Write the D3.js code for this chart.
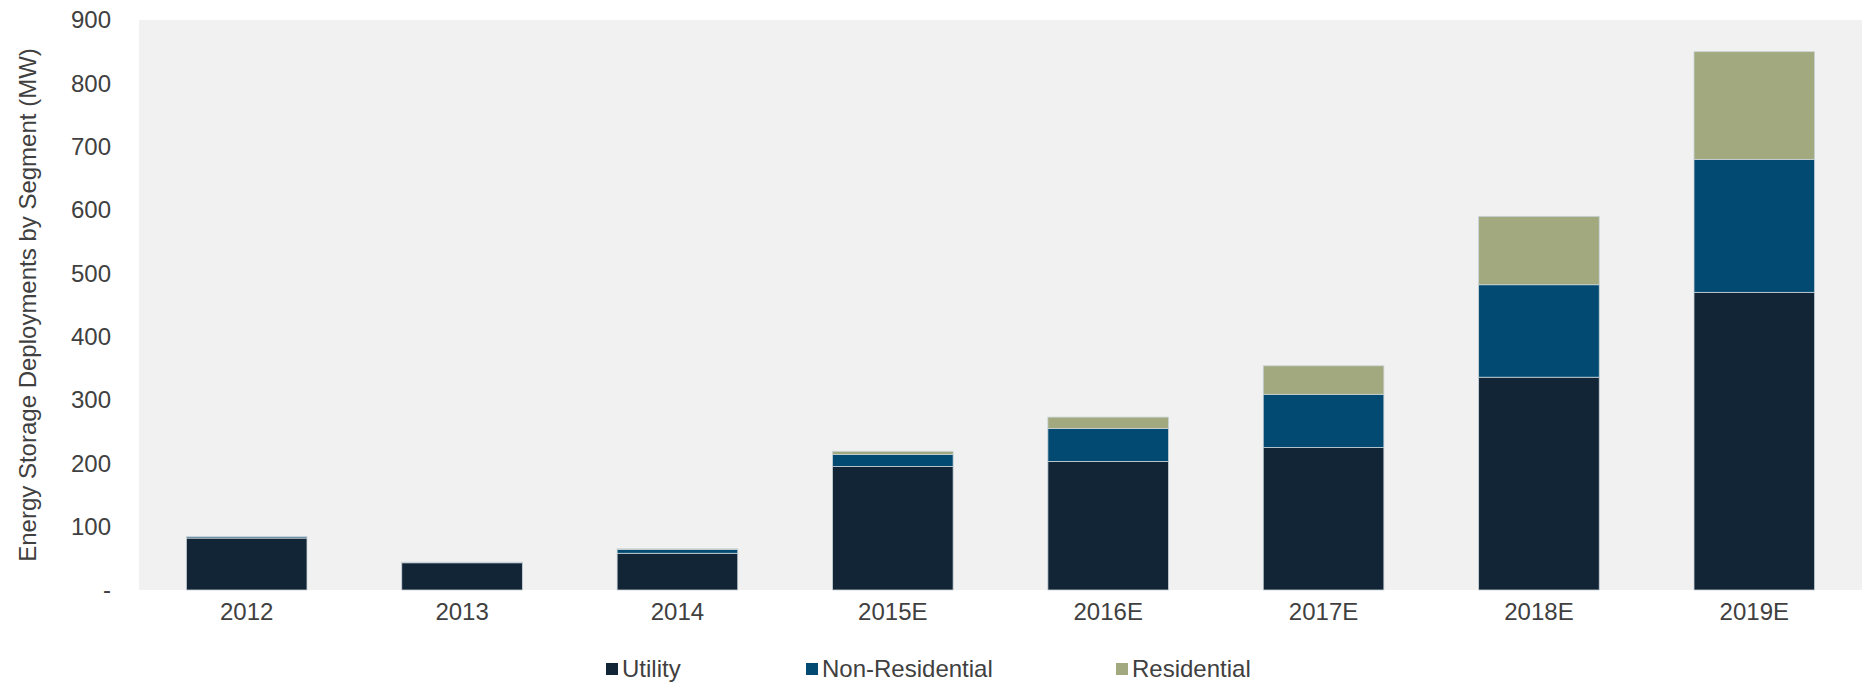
<!DOCTYPE html>
<html>
<head>
<meta charset="utf-8">
<script src="https://cdn.jsdelivr.net/npm/d3@7"></script>
<style>
  body { margin: 0; background: #fff; }
  text { font-family: "Liberation Sans", Arial, sans-serif; fill: #404040; }
</style>
</head>
<body>
<div id="chart"></div>
<script>
// Data (MW)
const years = ["2012", "2013", "2014", "2015E", "2016E", "2017E", "2018E", "2019E"];
const segments = ["Utility", "Non-Residential", "Residential"];
const utility = [82, 43, 58, 195, 203, 225, 336, 470];
const nonResidential = [2, 1, 6, 19, 52, 84, 146, 210];
const residential = [0, 0, 1, 5, 18, 45, 108, 170];
const yTicks = [0, 100, 200, 300, 400, 500, 600, 700, 800, 900];
const colors = ["#112537", "#024a72", "#a3a97e"];

const W = 1862, H = 683;
const margin = {top: 20, right: 0, bottom: 93, left: 139};
const width = W - margin.left - margin.right;
const height = H - margin.top - margin.bottom;
const fontSize = "24px";

const svg = d3.select("#chart").append("svg")
  .attr("width", W)
  .attr("height", H);

const g = svg.append("g")
  .attr("transform", `translate(${margin.left},${margin.top})`);

// plot background
g.append("rect")
  .attr("width", width)
  .attr("height", height)
  .attr("fill", "#f1f1f1");

const rows = years.map((y, i) => ({
  year: y,
  "Utility": utility[i],
  "Non-Residential": nonResidential[i],
  "Residential": residential[i]
}));

const stack = d3.stack().keys(segments)(rows);

const x = d3.scaleBand()
  .domain(years)
  .range([0, width])
  .paddingInner(0.44)
  .paddingOuter(0.22);

const y = d3.scaleLinear()
  .domain([0, 900])
  .range([height, 0]);

const color = d3.scaleOrdinal().domain(segments).range(colors);

g.selectAll(".layer")
  .data(stack)
  .enter().append("g")
  .attr("class", "layer")
  .attr("fill", d => color(d.key))
  .selectAll("rect")
  .data(d => d.filter(s => s[1] - s[0] > 0))
  .enter().append("rect")
  .attr("x", d => x(d.data.year))
  .attr("y", d => y(d[1]))
  .attr("width", x.bandwidth())
  .attr("height", d => y(d[0]) - y(d[1]))
  .attr("stroke", "#c9d3d8")
  .attr("stroke-width", 0.8);

// y axis (labels only)
const yAxis = g.append("g")
  .call(d3.axisLeft(y).tickValues(yTicks).tickSize(0).tickPadding(28)
    .tickFormat(d => d === 0 ? "-" : d));
yAxis.select(".domain").remove();
yAxis.selectAll("text")
  .style("font-size", fontSize)
  .style("font-family", "Liberation Sans, Arial, sans-serif")
  .attr("fill", "#404040");

// x axis
const xAxis = g.append("g")
  .attr("transform", `translate(0,${height})`)
  .call(d3.axisBottom(x).tickSize(0).tickPadding(13));
xAxis.select(".domain").remove();
xAxis.selectAll("text")
  .style("font-size", fontSize)
  .style("font-family", "Liberation Sans, Arial, sans-serif")
  .attr("fill", "#404040");

// y axis title
svg.append("text")
  .attr("transform", `translate(36,${margin.top + height / 2}) rotate(-90)`)
  .attr("text-anchor", "middle")
  .style("font-size", fontSize)
  .text("Energy Storage Deployments by Segment (MW)");

// legend
const legendX = [606, 806, 1116];
const legend = svg.append("g")
  .attr("transform", `translate(0,669)`);
const items = legend.selectAll(".item")
  .data(segments)
  .enter().append("g")
  .attr("class", "item")
  .attr("transform", (d, i) => `translate(${legendX[i]},0)`);
items.append("rect")
  .attr("x", 0)
  .attr("y", -6)
  .attr("width", 12)
  .attr("height", 12)
  .attr("fill", d => color(d));
items.append("text")
  .attr("x", 16)
  .attr("dy", "0.35em")
  .style("font-size", fontSize)
  .text(d => d);
</script>
</body>
</html>
